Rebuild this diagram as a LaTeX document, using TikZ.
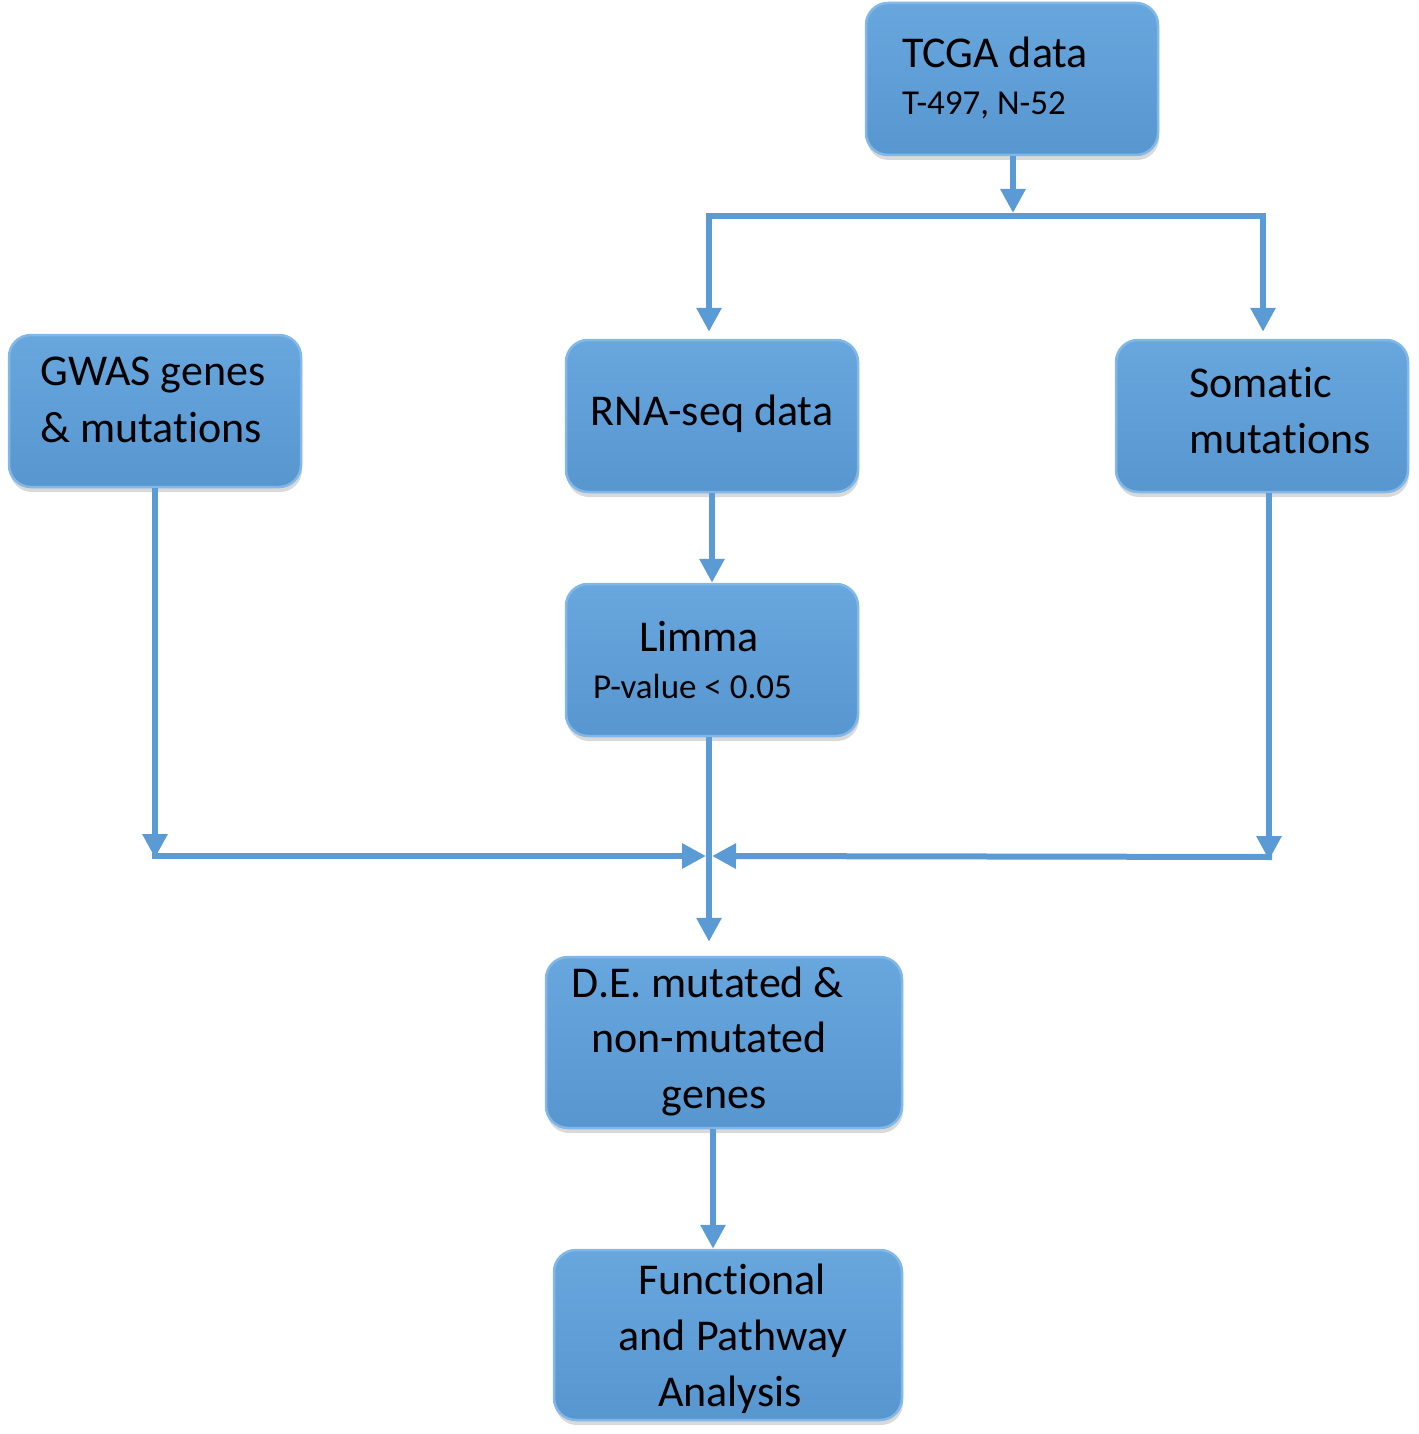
\documentclass[tikz,border=0pt]{standalone}
\usepackage{fontspec}
\setmainfont{Carlito}[Ligatures=NoCommon]
\usetikzlibrary{arrows.meta,shadows,calc}
\definecolor{boxtop}{HTML}{68A6DE}
\definecolor{boxbot}{HTML}{5896D0}
\definecolor{boxedge}{HTML}{82B8E8}
\definecolor{lineblue}{HTML}{5B9BD5}
\begin{document}
\begin{tikzpicture}[x=1pt,y=-1pt,
  box/.style={rectangle, rounded corners=22pt, draw=boxedge, line width=2.5pt,
    top color=boxtop, bottom color=boxbot,
    drop shadow={shadow xshift=1pt, shadow yshift=-5pt, opacity=0.3},
    inner sep=0pt},
  big/.style={font=\fontsize{44}{55}\selectfont, anchor=base, inner sep=0pt},
  small/.style={font=\fontsize{35}{44}\selectfont, anchor=base west, inner sep=0pt},
  arr/.style={draw=lineblue, line width=6pt, -{Triangle[length=24pt,width=24pt]}}]
\useasboundingbox (0,0) rectangle (1418,1434);

\coordinate (split) at (1013,216);
\coordinate (gj) at (155,856);
\coordinate (sj) at (1269,857);
\coordinate (merge) at (709,856);

% boxes
\node[box, minimum width=292pt, minimum height=152pt] (tcga) at (1012,79) {};
\node[box, minimum width=292pt, minimum height=152pt] (gwas) at (155,411) {};
\node[box, minimum width=292pt, minimum height=152pt] (rna) at (712,416) {};
\node[box, minimum width=292pt, minimum height=152pt] (som) at (1262,416) {};
\node[box, minimum width=292pt, minimum height=152pt] (limma) at (712,660) {};
\node[box, minimum width=356pt, minimum height=171pt] (de) at (724,1042.5) {};
\node[box, minimum width=348pt, minimum height=170pt] (func) at (728,1335) {};

% connectors
\draw[arr] (tcga.south -| split) -- ($(split)+(0,-3)$);
\draw[arr] (split) -| ($(rna.north)+(-3,-7)$);
\draw[arr] (split) -| ($(som.north)+(1,-7)$);
\draw[arr] (rna.south) -- (limma.north);
\draw[arr] (gwas.south) -- ($(gj)+(0,2)$);
\draw[arr] ($(gj)+(-3,0)$) -- ($(merge)+(-3,0)$);
\draw[arr] (som.south -| sj) -- ($(sj)+(0,3)$);
\draw[arr] ($(sj)+(3,0)$) -- ($(merge)+(3,0)$);
\draw[arr] (limma.south -| merge) -- ($(de.north -| merge)+(0,-14)$);
\draw[arr] ($(de.south)+(-11,0)$) -- ($(func.north)+(-15,0)$);

% texts
\node[big, anchor=base west] (tcgaA) at (902,68) {TCGA data};
\node[small] (tcgaB) at (902,115) {T-497, N-52};
\node[big] (gwasA) at (153,385) {GWAS genes};
\node[big] (gwasB) at (151,442) {\& mutations};
\node[big] (rnaA) at (712,425) {RNA-seq data};
\node[big, anchor=base west] (somA) at (1189,397) {Somatic};
\node[big, anchor=base west] (somB) at (1189,453) {mutations};
\node[big] (limA) at (699,651) {Limma};
\node[small] (limB) at (593,698) {P-value < 0.05};
\node[big] (deA) at (708,997) {D.E. mutated \&};
\node[big] (deB) at (709,1052) {non-mutated};
\node[big] (deC) at (714,1108) {genes};
\node[big] (fnA) at (732,1294) {Functional};
\node[big] (fnB) at (733,1350) {and Pathway};
\node[big] (fnC) at (730,1406) {Analysis};
\end{tikzpicture}
\end{document}
